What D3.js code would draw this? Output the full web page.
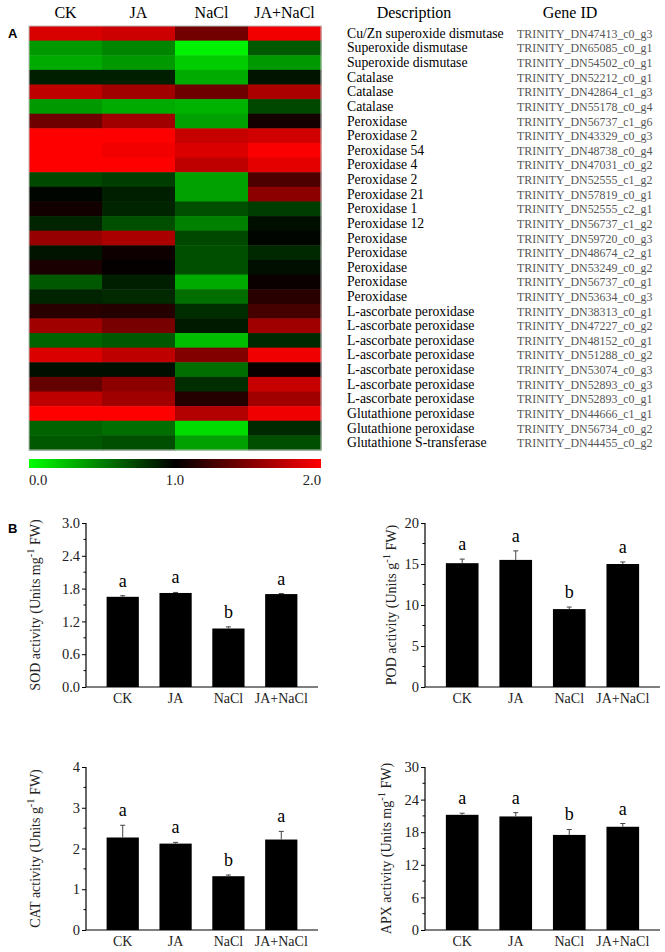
<!DOCTYPE html>
<html>
<head>
<meta charset="utf-8">
<script src="https://cdn.jsdelivr.net/npm/d3@7"></script>
<style>
  body { margin: 0; background: #fff; }
  text { font-family: "Liberation Serif", "Times New Roman", serif; }
  .panel-letter { font-family: "Liberation Sans", Arial, sans-serif; font-weight: bold; font-size: 13px; }
</style>
</head>
<body>
<svg width="665" height="952"></svg>
<script>
// ---- heatmap data ----
var treatments = ['CK', 'JA', 'NaCl', 'JA+NaCl'];
var descriptions = [
  'Cu/Zn superoxide dismutase', 'Superoxide dismutase', 'Superoxide dismutase',
  'Catalase', 'Catalase', 'Catalase',
  'Peroxidase', 'Peroxidase 2', 'Peroxidase 54', 'Peroxidase 4', 'Peroxidase 2',
  'Peroxidase 21', 'Peroxidase 1', 'Peroxidase 12',
  'Peroxidase', 'Peroxidase', 'Peroxidase', 'Peroxidase', 'Peroxidase',
  'L-ascorbate peroxidase', 'L-ascorbate peroxidase', 'L-ascorbate peroxidase',
  'L-ascorbate peroxidase', 'L-ascorbate peroxidase', 'L-ascorbate peroxidase',
  'L-ascorbate peroxidase', 'Glutathione peroxidase', 'Glutathione peroxidase',
  'Glutathione S-transferase'
];
var geneIds = [
  'TRINITY_DN47413_c0_g3', 'TRINITY_DN65085_c0_g1', 'TRINITY_DN54502_c0_g1',
  'TRINITY_DN52212_c0_g1', 'TRINITY_DN42864_c1_g3', 'TRINITY_DN55178_c0_g4',
  'TRINITY_DN56737_c1_g6', 'TRINITY_DN43329_c0_g3', 'TRINITY_DN48738_c0_g4',
  'TRINITY_DN47031_c0_g2', 'TRINITY_DN52555_c1_g2', 'TRINITY_DN57819_c0_g1',
  'TRINITY_DN52555_c2_g1', 'TRINITY_DN56737_c1_g2', 'TRINITY_DN59720_c0_g3',
  'TRINITY_DN48674_c2_g1', 'TRINITY_DN53249_c0_g2', 'TRINITY_DN56737_c0_g1',
  'TRINITY_DN53634_c0_g3', 'TRINITY_DN38313_c0_g1', 'TRINITY_DN47227_c0_g2',
  'TRINITY_DN48152_c0_g1', 'TRINITY_DN51288_c0_g2', 'TRINITY_DN53074_c0_g3',
  'TRINITY_DN52893_c0_g3', 'TRINITY_DN52893_c0_g1', 'TRINITY_DN44666_c1_g1',
  'TRINITY_DN56734_c0_g2', 'TRINITY_DN44455_c0_g2'
];
// relative expression (0 = green, 1 = black, 2 = red)
var exprCK = [1.85, 0.40, 0.33, 0.88, 1.75, 0.40, 1.43, 2.00, 2.00, 2.00, 0.72, 0.98, 1.07, 0.86, 1.59,
  0.92, 1.10, 0.65, 0.86, 1.16, 1.63, 0.61, 1.86, 0.94, 1.39, 1.75, 2.00, 0.61, 0.65];
var exprJA = [1.80, 0.48, 0.40, 0.88, 1.63, 0.33, 1.63, 2.00, 1.95, 2.00, 0.76, 0.88, 0.86, 0.69, 1.67,
  1.06, 1.02, 0.88, 0.84, 1.14, 1.47, 0.65, 1.75, 0.94, 1.55, 1.63, 2.00, 0.57, 0.69];
var exprNaCl = [1.45, 0.05, 0.20, 0.33, 1.43, 0.30, 0.37, 1.78, 1.86, 1.75, 0.37, 0.37, 0.69, 0.49, 0.72,
  0.69, 0.69, 0.33, 0.57, 0.82, 0.90, 0.25, 1.51, 0.57, 0.82, 1.14, 1.70, 0.14, 0.37];
var exprJANaCl = [1.95, 0.65, 0.40, 0.92, 1.67, 0.72, 1.08, 1.82, 1.98, 1.90, 1.30, 1.55, 0.76, 0.94, 0.98,
  0.84, 0.94, 1.04, 1.16, 1.27, 1.63, 0.84, 1.94, 1.04, 1.78, 1.63, 1.94, 0.84, 0.69];
var colorTicks = [0, 1, 2];

// ---- enzyme activity data ----
var groups = ['CK', 'JA', 'NaCl', 'JA+NaCl'];
var sodMean = [1.65, 1.72, 1.07, 1.70];
var sodErr = [0.02, 0.01, 0.03, 0.01];
var sodLetters = ['a', 'a', 'b', 'a'];
var podMean = [15.1, 15.5, 9.5, 15.0];
var podErr = [0.5, 1.1, 0.25, 0.25];
var podLetters = ['a', 'a', 'b', 'a'];
var catMean = [2.27, 2.12, 1.32, 2.22];
var catErr = [0.3, 0.03, 0.03, 0.2];
var catLetters = ['a', 'a', 'b', 'a'];
var apxMean = [21.2, 20.9, 17.5, 19.0];
var apxErr = [0.3, 0.7, 1.0, 0.6];
var apxLetters = ['a', 'a', 'b', 'a'];

var svg = d3.select('svg');

// ================= Panel A: heatmap =================
var hm = { left: 29, right: 321, top: 26, bottom: 450 };
var rows = d3.range(descriptions.length);
var matrix = [exprCK, exprJA, exprNaCl, exprJANaCl];

var xHm = d3.scaleBand().domain(treatments).range([hm.left, hm.right]);
var yHm = d3.scaleBand().domain(rows).range([hm.top, hm.bottom]);
var color = d3.scaleLinear().domain([0, 1, 2]).range(['#00ff00', '#000000', '#ff0000'])
    .interpolate(d3.interpolateRgb);

svg.append('text').attr('class', 'panel-letter').attr('x', 8).attr('y', 38).text('A');

var cells = [];
treatments.forEach(function(t, j) {
  rows.forEach(function(i) { cells.push({ t: t, row: i, v: matrix[j][i] }); });
});

svg.append('g').selectAll('rect')
    .data(cells)
    .enter().append('rect')
    .attr('x', function(d) { return xHm(d.t); })
    .attr('y', function(d) { return yHm(d.row); })
    .attr('width', xHm.bandwidth() + 0.5)
    .attr('height', yHm.bandwidth() + 0.5)
    .attr('fill', function(d) { return color(d.v); });

svg.append('rect')
    .attr('x', hm.left).attr('y', hm.top)
    .attr('width', hm.right - hm.left).attr('height', hm.bottom - hm.top)
    .attr('fill', 'none').attr('stroke', '#bbb').attr('stroke-width', 1);

// column headers
svg.append('g').selectAll('text')
    .data(treatments)
    .enter().append('text')
    .attr('x', function(d) { return xHm(d) + xHm.bandwidth() / 2; })
    .attr('y', 18)
    .attr('text-anchor', 'middle')
    .style('font-size', '16px')
    .text(function(d) { return d; });

svg.append('text').attr('x', 414).attr('y', 18).attr('text-anchor', 'middle')
    .style('font-size', '16px').text('Description');
svg.append('text').attr('x', 570).attr('y', 18).attr('text-anchor', 'middle')
    .style('font-size', '16px').text('Gene ID');

// row labels
svg.append('g').selectAll('text')
    .data(rows)
    .enter().append('text')
    .attr('x', 347)
    .attr('y', function(i) { return yHm(i) + yHm.bandwidth() / 2 + 4.5; })
    .style('font-size', '13.7px')
    .text(function(i) { return descriptions[i]; });

svg.append('g').selectAll('text')
    .data(rows)
    .enter().append('text')
    .attr('x', 517)
    .attr('y', function(i) { return yHm(i) + yHm.bandwidth() / 2 + 4.5; })
    .attr('fill', '#555')
    .style('font-size', '11.9px')
    .text(function(i) { return geneIds[i]; });

// color bar
var defs = svg.append('defs');
var grad = defs.append('linearGradient').attr('id', 'hmgrad');
grad.selectAll('stop')
    .data(colorTicks)
    .enter().append('stop')
    .attr('offset', function(d) { return (d / 2 * 100) + '%'; })
    .attr('stop-color', function(d) { return color(d); });

var xBar = d3.scaleLinear().domain([0, 2]).range([hm.left, hm.right]);
svg.append('rect')
    .attr('x', xBar(0)).attr('y', 459)
    .attr('width', xBar(2) - xBar(0)).attr('height', 9)
    .attr('fill', 'url(#hmgrad)');

svg.append('g').selectAll('text')
    .data(colorTicks)
    .enter().append('text')
    .attr('x', function(d) { return xBar(d); })
    .attr('y', 485)
    .attr('text-anchor', function(d) { return d === 0 ? 'start' : (d === 2 ? 'end' : 'middle'); })
    .style('font-size', '14.7px')
    .attr('fill', '#222')
    .text(function(d) { return d3.format('.1f')(d); });

// ================= Panel B: bar charts =================
svg.append('text').attr('class', 'panel-letter').attr('x', 8).attr('y', 533).text('B');

function drawBars(opt) {
  var g = svg.append('g');
  var x = d3.scaleBand().domain(groups).range([opt.x0, opt.x1]).padding(0.39);
  var y = d3.scaleLinear().domain([0, opt.max]).range([opt.yBottom, opt.yTop]);

  // bars
  g.selectAll('.bar')
      .data(groups)
      .enter().append('rect')
      .attr('class', 'bar')
      .attr('x', function(d) { return x(d); })
      .attr('y', function(d, i) { return y(opt.mean[i]); })
      .attr('width', x.bandwidth())
      .attr('height', function(d, i) { return y(0) - y(opt.mean[i]); })
      .attr('fill', '#000');

  // error bars (upper only)
  g.selectAll('.err')
      .data(groups)
      .enter().append('path')
      .attr('class', 'err')
      .attr('d', function(d, i) {
        var cx = x(d) + x.bandwidth() / 2;
        var top = y(opt.mean[i] + opt.err[i]);
        return 'M' + cx + ',' + y(opt.mean[i]) + 'V' + top + 'M' + (cx - 2.5) + ',' + top + 'H' + (cx + 2.5);
      })
      .attr('stroke', '#444').attr('stroke-width', 1).attr('fill', 'none');

  // significance letters
  g.selectAll('.sig')
      .data(groups)
      .enter().append('text')
      .attr('class', 'sig')
      .attr('x', function(d) { return x(d) + x.bandwidth() / 2; })
      .attr('y', function(d, i) { return y(opt.mean[i] + opt.err[i]) - 9; })
      .attr('text-anchor', 'middle')
      .style('font-size', '18px')
      .text(function(d, i) { return opt.letters[i]; });

  // y axis with minor ticks
  var yAxis = d3.axisLeft(y).tickValues(opt.ticks).tickSize(4).tickPadding(2)
      .tickFormat(opt.fmt);
  var ya = g.append('g').attr('transform', 'translate(' + opt.x0 + ',0)').call(yAxis);
  ya.select('.domain').attr('d', 'M0,' + opt.yBottom + 'V' + opt.yTop).attr('stroke-width', 1.2);
  ya.selectAll('text').style('font-size', '14.5px').style('font-family', '"Liberation Serif", serif').attr('fill', '#222');
  var minor = opt.ticks.slice(1).map(function(t, i) { return (t + opt.ticks[i]) / 2; });
  ya.selectAll('.minor')
      .data(minor)
      .enter().append('line')
      .attr('class', 'minor')
      .attr('x1', 0).attr('x2', -2.5)
      .attr('y1', function(d) { return y(d); })
      .attr('y2', function(d) { return y(d); })
      .attr('stroke', '#000');

  // x axis (no ticks)
  var xAxis = d3.axisBottom(x).tickSize(0).tickPadding(6);
  var xa = g.append('g').attr('transform', 'translate(0,' + opt.yBottom + ')').call(xAxis);
  xa.select('.domain').attr('d', 'M' + opt.x0 + ',0H' + opt.x1).attr('stroke-width', 1.2);
  xa.selectAll('text').style('font-size', '14px').style('font-family', '"Liberation Serif", serif').attr('fill', '#222');

  // y label
  var lab = g.append('text')
      .attr('transform', 'translate(' + opt.labelX + ',' + ((opt.yTop + opt.yBottom) / 2) + ') rotate(-90)')
      .attr('text-anchor', 'middle')
      .style('font-size', '14px')
      .attr('fill', '#222');
  lab.append('tspan').text(opt.label + ' (Units ' + opt.unit);
  lab.append('tspan').attr('dy', -6).style('font-size', '10.5px').text('-1');
  lab.append('tspan').attr('dy', 6).text(' FW)');
}

drawBars({ x0: 86, x1: 318, yTop: 523, yBottom: 687, max: 3, ticks: [0, 0.6, 1.2, 1.8, 2.4, 3.0],
  fmt: d3.format('.1f'), mean: sodMean, err: sodErr, letters: sodLetters,
  label: 'SOD activity', unit: 'mg', labelX: 40 });
drawBars({ x0: 425, x1: 660, yTop: 523, yBottom: 687, max: 20, ticks: [0, 5, 10, 15, 20],
  fmt: d3.format('d'), mean: podMean, err: podErr, letters: podLetters,
  label: 'POD activity', unit: 'g', labelX: 396 });
drawBars({ x0: 86, x1: 318, yTop: 767, yBottom: 930, max: 4, ticks: [0, 1, 2, 3, 4],
  fmt: d3.format('d'), mean: catMean, err: catErr, letters: catLetters,
  label: 'CAT activity', unit: 'g', labelX: 40 });
drawBars({ x0: 425, x1: 660, yTop: 767, yBottom: 930, max: 30, ticks: [0, 6, 12, 18, 24, 30],
  fmt: d3.format('d'), mean: apxMean, err: apxErr, letters: apxLetters,
  label: 'APX activity', unit: 'mg', labelX: 391 });
</script>
</body>
</html>
